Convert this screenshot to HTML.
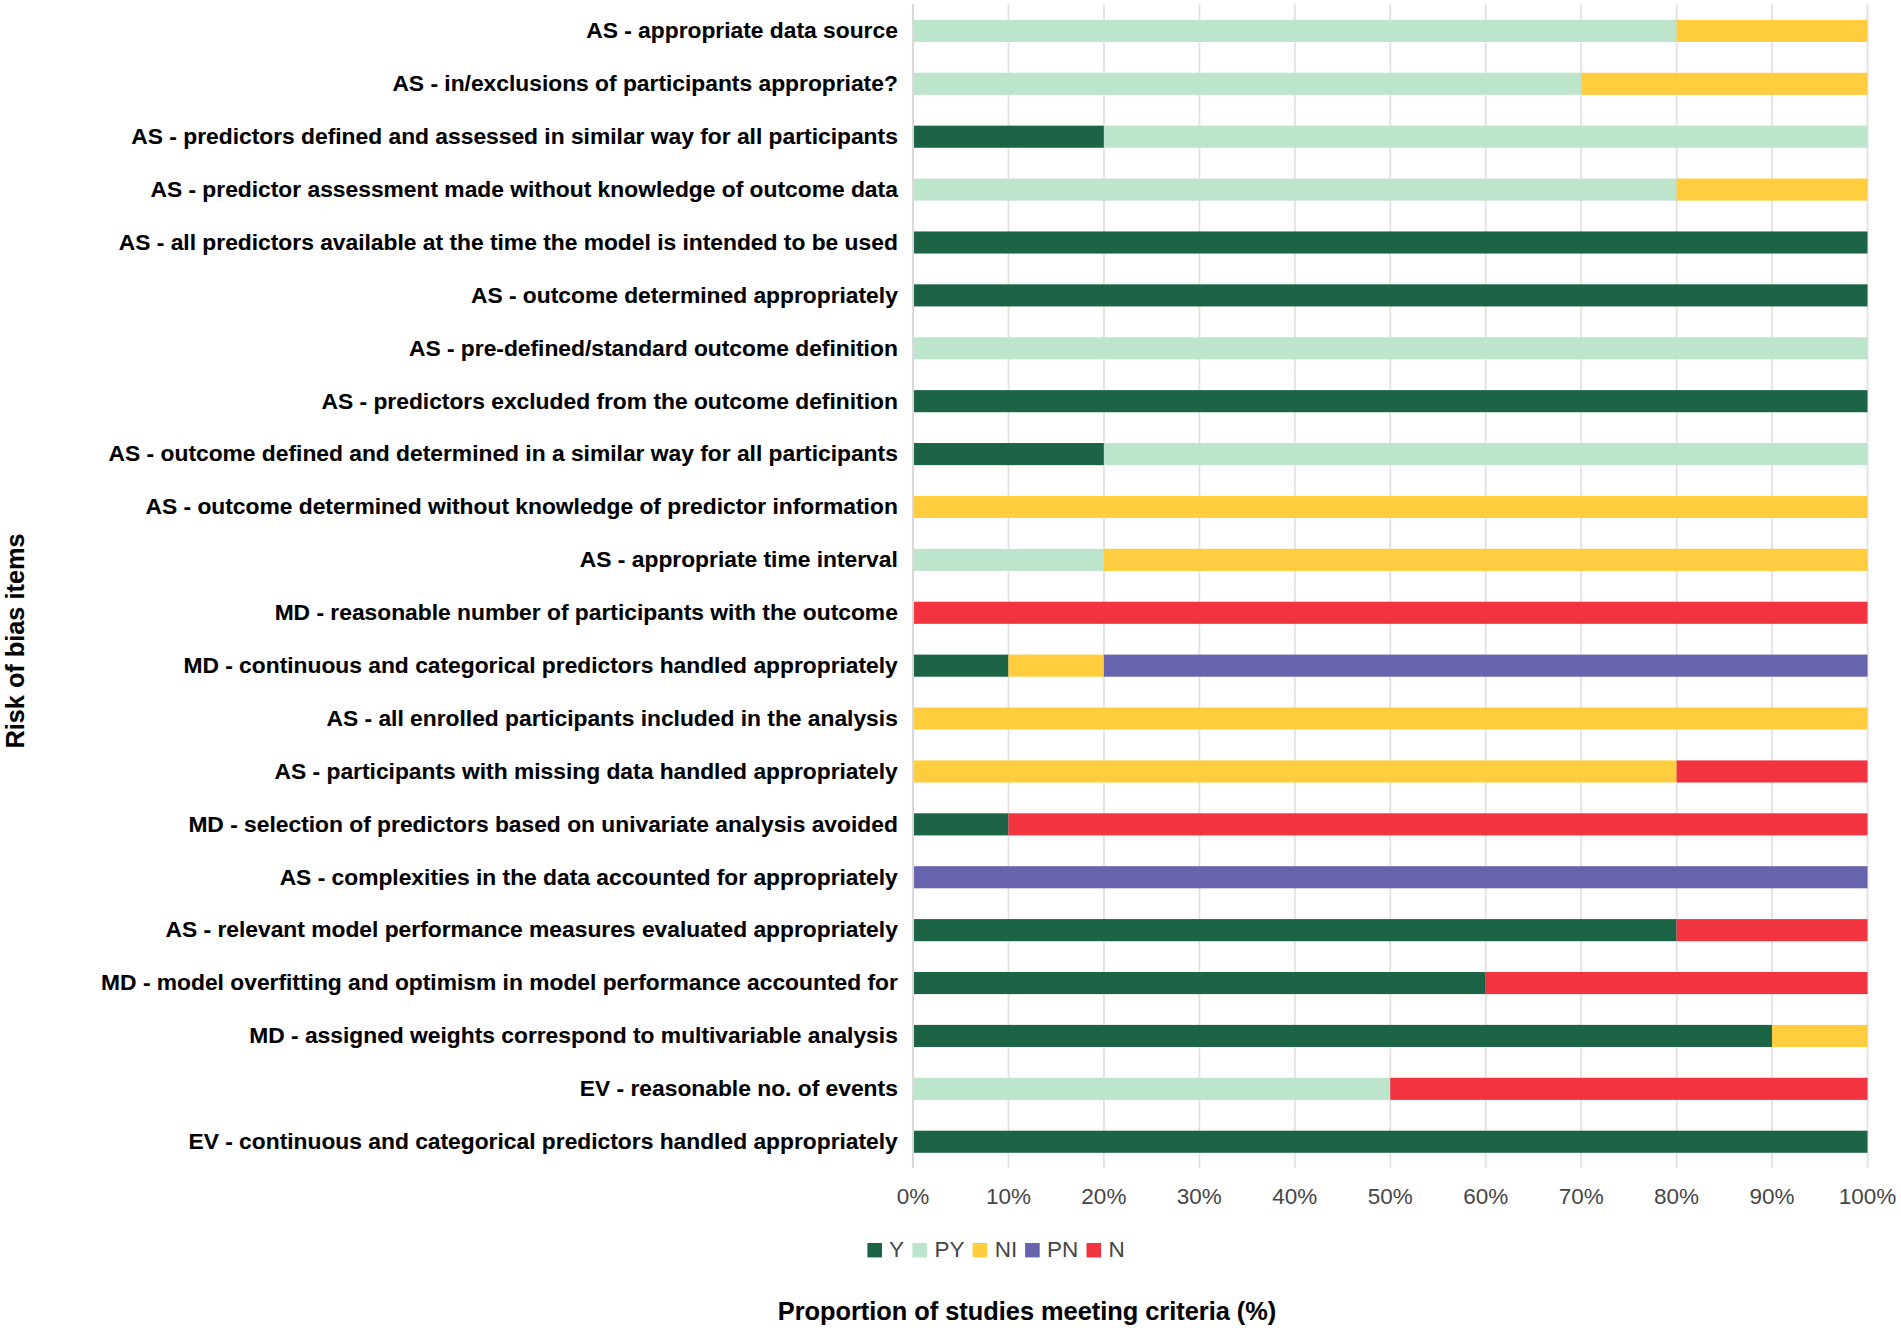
<!DOCTYPE html>
<html lang="en"><head><meta charset="utf-8"><title>Risk of bias items</title>
<style>
html,body{margin:0;padding:0;background:#fff}
body{width:1901px;height:1330px;position:relative;overflow:hidden;font-family:"Liberation Sans",sans-serif}
svg{position:absolute;left:0;top:0}
.lab{position:absolute;right:1003.2px;white-space:nowrap;font-weight:bold;font-size:22.81px;line-height:26px;height:26px;color:#000;-webkit-text-stroke:0.1px #000}
.tick{position:absolute;top:1183.8px;width:80px;margin-left:-40px;text-align:center;font-size:22.50px;line-height:26px;color:#464646;white-space:nowrap}
.lt{position:absolute;top:1237px;font-size:22.50px;line-height:26px;color:#464646;white-space:nowrap}
.xt{position:absolute;left:527px;width:1000px;top:1296px;text-align:center;font-weight:bold;font-size:25.35px;line-height:30px;color:#000;white-space:nowrap;-webkit-text-stroke:0.1px #000}
.yt{position:absolute;left:14.6px;top:641.0px;width:0;height:0}
.yt span{position:absolute;left:-200px;width:400px;top:-15px;height:30px;line-height:30px;text-align:center;font-weight:bold;font-size:25.3px;color:#000;white-space:nowrap;transform:rotate(-90deg);-webkit-text-stroke:0.1px #000}
</style></head><body>
<svg width="1901" height="1330" viewBox="0 0 1901 1330">

<g stroke="#e4e2e3" stroke-width="1.9">
<line x1="1008.50" y1="4.3" x2="1008.50" y2="1167.8"/>
<line x1="1103.95" y1="4.3" x2="1103.95" y2="1167.8"/>
<line x1="1199.40" y1="4.3" x2="1199.40" y2="1167.8"/>
<line x1="1294.85" y1="4.3" x2="1294.85" y2="1167.8"/>
<line x1="1390.30" y1="4.3" x2="1390.30" y2="1167.8"/>
<line x1="1485.75" y1="4.3" x2="1485.75" y2="1167.8"/>
<line x1="1581.20" y1="4.3" x2="1581.20" y2="1167.8"/>
<line x1="1676.65" y1="4.3" x2="1676.65" y2="1167.8"/>
<line x1="1772.10" y1="4.3" x2="1772.10" y2="1167.8"/>
<line x1="1867.55" y1="4.3" x2="1867.55" y2="1167.8"/>
</g>
<rect x="913.00" y="19.85" width="763.60" height="22.10" fill="#bde5cc"/>
<rect x="1676.60" y="19.85" width="190.90" height="22.10" fill="#ffcd3e"/>
<rect x="913.00" y="72.75" width="668.15" height="22.10" fill="#bde5cc"/>
<rect x="1581.15" y="72.75" width="286.35" height="22.10" fill="#ffcd3e"/>
<rect x="913.00" y="125.64" width="190.90" height="22.10" fill="#1c6446"/>
<rect x="1103.90" y="125.64" width="763.60" height="22.10" fill="#bde5cc"/>
<rect x="913.00" y="178.54" width="763.60" height="22.10" fill="#bde5cc"/>
<rect x="1676.60" y="178.54" width="190.90" height="22.10" fill="#ffcd3e"/>
<rect x="913.00" y="231.44" width="954.50" height="22.10" fill="#1c6446"/>
<rect x="913.00" y="284.33" width="954.50" height="22.10" fill="#1c6446"/>
<rect x="913.00" y="337.23" width="954.50" height="22.10" fill="#bde5cc"/>
<rect x="913.00" y="390.13" width="954.50" height="22.10" fill="#1c6446"/>
<rect x="913.00" y="443.03" width="190.90" height="22.10" fill="#1c6446"/>
<rect x="1103.90" y="443.03" width="763.60" height="22.10" fill="#bde5cc"/>
<rect x="913.00" y="495.92" width="954.50" height="22.10" fill="#ffcd3e"/>
<rect x="913.00" y="548.82" width="190.90" height="22.10" fill="#bde5cc"/>
<rect x="1103.90" y="548.82" width="763.60" height="22.10" fill="#ffcd3e"/>
<rect x="913.00" y="601.72" width="954.50" height="22.10" fill="#f1343f"/>
<rect x="913.00" y="654.61" width="95.45" height="22.10" fill="#1c6446"/>
<rect x="1008.45" y="654.61" width="95.45" height="22.10" fill="#ffcd3e"/>
<rect x="1103.90" y="654.61" width="763.60" height="22.10" fill="#6764ad"/>
<rect x="913.00" y="707.51" width="954.50" height="22.10" fill="#ffcd3e"/>
<rect x="913.00" y="760.41" width="763.60" height="22.10" fill="#ffcd3e"/>
<rect x="1676.60" y="760.41" width="190.90" height="22.10" fill="#f1343f"/>
<rect x="913.00" y="813.30" width="95.45" height="22.10" fill="#1c6446"/>
<rect x="1008.45" y="813.30" width="859.05" height="22.10" fill="#f1343f"/>
<rect x="913.00" y="866.20" width="954.50" height="22.10" fill="#6764ad"/>
<rect x="913.00" y="919.10" width="763.60" height="22.10" fill="#1c6446"/>
<rect x="1676.60" y="919.10" width="190.90" height="22.10" fill="#f1343f"/>
<rect x="913.00" y="972.00" width="572.70" height="22.10" fill="#1c6446"/>
<rect x="1485.70" y="972.00" width="381.80" height="22.10" fill="#f1343f"/>
<rect x="913.00" y="1024.89" width="859.05" height="22.10" fill="#1c6446"/>
<rect x="1772.05" y="1024.89" width="95.45" height="22.10" fill="#ffcd3e"/>
<rect x="913.00" y="1077.79" width="477.25" height="22.10" fill="#bde5cc"/>
<rect x="1390.25" y="1077.79" width="477.25" height="22.10" fill="#f1343f"/>
<rect x="913.00" y="1130.69" width="954.50" height="22.10" fill="#1c6446"/>
<line x1="913.00" y1="4.3" x2="913.00" y2="1167.8" stroke="#dad8d9" stroke-width="2.1"/>
<rect x="867.4" y="1243.0" width="14.6" height="14.4" fill="#1c6446"/>
<rect x="912.4" y="1243.0" width="14.6" height="14.4" fill="#bde5cc"/>
<rect x="972.6" y="1243.0" width="14.6" height="14.4" fill="#ffcd3e"/>
<rect x="1025.1" y="1243.0" width="14.6" height="14.4" fill="#6764ad"/>
<rect x="1086.5" y="1243.0" width="14.6" height="14.4" fill="#f1343f"/>
</svg>
<div class="lab" style="top:17.2px">AS - appropriate data source</div>
<div class="lab" style="top:70.1px">AS - in/exclusions of participants appropriate?</div>
<div class="lab" style="top:123.0px">AS - predictors defined and assessed in similar way for all participants</div>
<div class="lab" style="top:175.9px">AS - predictor assessment made without knowledge of outcome data</div>
<div class="lab" style="top:228.8px">AS - all predictors available at the time the model is intended to be used</div>
<div class="lab" style="top:281.7px">AS - outcome determined appropriately</div>
<div class="lab" style="top:334.6px">AS - pre-defined/standard outcome definition</div>
<div class="lab" style="top:387.5px">AS - predictors excluded from the outcome definition</div>
<div class="lab" style="top:440.4px">AS - outcome defined and determined in a similar way for all participants</div>
<div class="lab" style="top:493.3px">AS - outcome determined without knowledge of predictor information</div>
<div class="lab" style="top:546.2px">AS - appropriate time interval</div>
<div class="lab" style="top:599.1px">MD - reasonable number of participants with the outcome</div>
<div class="lab" style="top:652.0px">MD - continuous and categorical predictors handled appropriately</div>
<div class="lab" style="top:704.9px">AS - all enrolled participants included in the analysis</div>
<div class="lab" style="top:757.8px">AS - participants with missing data handled appropriately</div>
<div class="lab" style="top:810.7px">MD - selection of predictors based on univariate analysis avoided</div>
<div class="lab" style="top:863.6px">AS - complexities in the data accounted for appropriately</div>
<div class="lab" style="top:916.4px">AS - relevant model performance measures evaluated appropriately</div>
<div class="lab" style="top:969.3px">MD - model overfitting and optimism in model performance accounted for</div>
<div class="lab" style="top:1022.2px">MD - assigned weights correspond to multivariable analysis</div>
<div class="lab" style="top:1075.1px">EV - reasonable no. of events</div>
<div class="lab" style="top:1128.0px">EV - continuous and categorical predictors handled appropriately</div>
<div class="tick" style="left:913.0px">0%</div>
<div class="tick" style="left:1008.5px">10%</div>
<div class="tick" style="left:1103.9px">20%</div>
<div class="tick" style="left:1199.3px">30%</div>
<div class="tick" style="left:1294.8px">40%</div>
<div class="tick" style="left:1390.2px">50%</div>
<div class="tick" style="left:1485.7px">60%</div>
<div class="tick" style="left:1581.2px">70%</div>
<div class="tick" style="left:1676.6px">80%</div>
<div class="tick" style="left:1772.0px">90%</div>
<div class="tick" style="left:1867.5px">100%</div>
<div class="lt" style="left:889.0px">Y</div>
<div class="lt" style="left:934.4px">PY</div>
<div class="lt" style="left:994.8px">NI</div>
<div class="lt" style="left:1047.1px">PN</div>
<div class="lt" style="left:1108.5px">N</div>
<div class="xt">Proportion of studies meeting criteria (%)</div>
<div class="yt"><span>Risk of bias items</span></div>
</body></html>
